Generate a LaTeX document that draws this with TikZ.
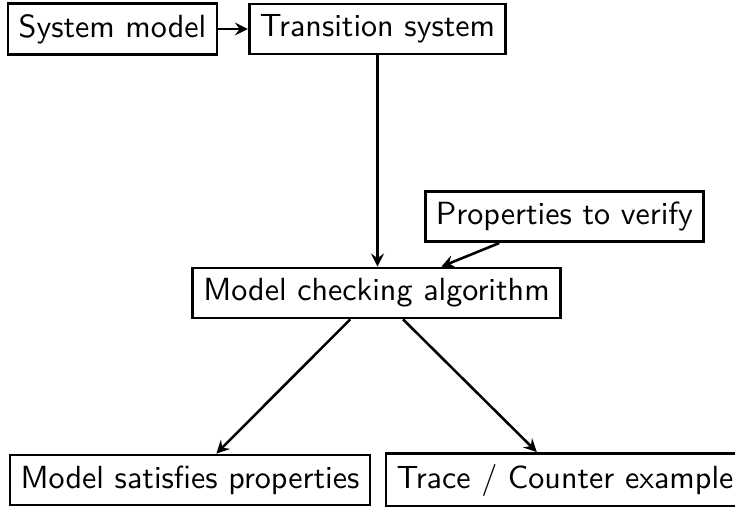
\documentclass[tikz,border=0pt]{standalone}
\usepackage{tikz}
\usetikzlibrary{arrows}

\begin{document}
\begin{tikzpicture}[x=0.312pt,y=-0.312pt,font=\sffamily]
      \tikzset{box/.style={shape=rectangle,draw,color=black,thick}}
      \useasboundingbox (0,0) rectangle (735,506);

      % top row
      \path node (sys) at (112.5,29) [box] {System model};
      \path node (trans) at (377.5,29) [box] {Transition system};

      % middle
      \path node (props) at (564.5,216.5) [box] {Properties to verify};
      \path node (mca) at (376.5,293) [box] {Model checking algorithm};

      % results
      \path node (sat) at (190,480) [box] {Model satisfies properties};
      \path node (trace) at (565,480) [box] {Trace / Counter example};

      % arrows
      \draw[-stealth,thick] (sys) -- (trans);
      \draw[-stealth,thick] (trans) -- (trans |- mca.north);
      \draw[-stealth,thick] (props) -- (mca);
      \draw[-stealth,thick] (mca) -- (sat);
      \draw[-stealth,thick] (mca) -- (trace);
\end{tikzpicture}
\end{document}
